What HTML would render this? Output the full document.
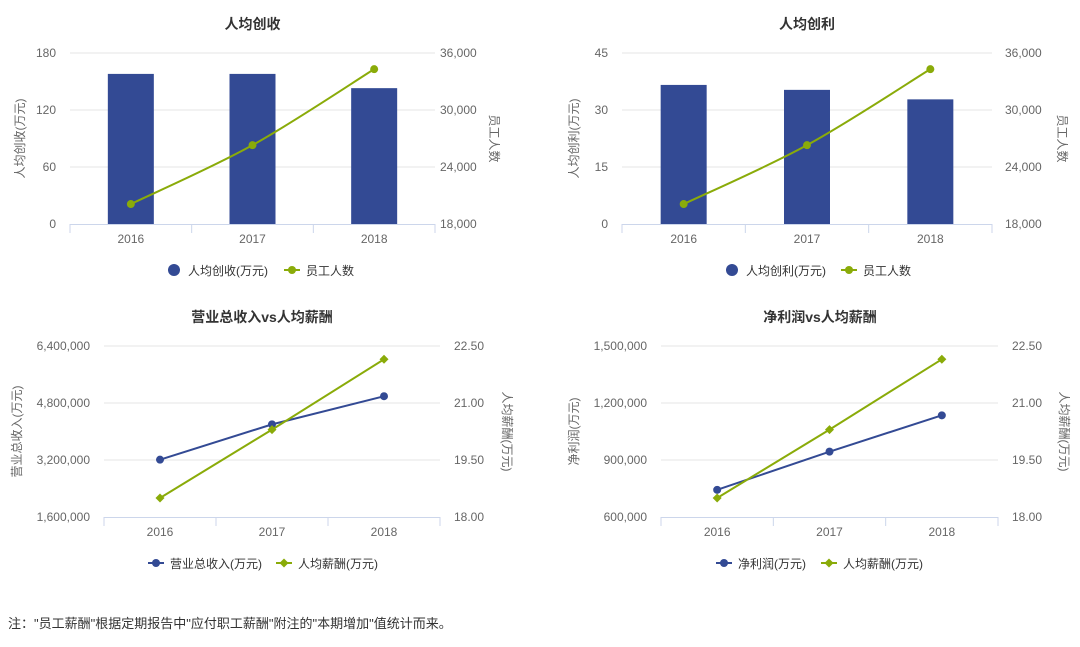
<!DOCTYPE html>
<html><head><meta charset="utf-8">
<style>
body{margin:0;background:#fff;width:1080px;height:647px;overflow:hidden;font-family:"Liberation Sans","Noto Sans CJK SC",sans-serif}
svg{position:absolute;left:0;top:0}
#note{position:absolute;left:8px;top:613px;font-size:13px;color:#333}
</style></head><body>
<svg id="chart" width="1080" height="647" xmlns="http://www.w3.org/2000/svg"></svg>
<div id="note">注："员工薪酬"根据定期报告中"应付职工薪酬"附注的"本期增加"值统计而来。</div>
<script>
const categories=["2016","2017","2018"];
const revPerCap=[158,158,143];
const profitPerCap=[36.6,35.3,32.8];
const employees=[20100,26300,34300];
const employees2=[20100,26300,34300];
const totalRevenue=[3210000,4200000,4990000];
const netProfit=[743000,944000,1135000];
const salary=[18.5,20.3,22.15];
const salary2=[18.5,20.3,22.15];
const ticks1L=[0,60,120,180], ticks1R=[18000,24000,30000,36000];
const ticks2L=[0,15,30,45];
const ticks3L=[1600000,3200000,4800000,6400000], ticksSal=[18,19.5,21,22.5];
const ticks4L=[600000,900000,1200000,1500000];

const NS="http://www.w3.org/2000/svg";
const svg=document.getElementById('chart');
const BLUE="#334a94", GREEN="#8aab09";
function el(tag,attrs,parent){const e=document.createElementNS(NS,tag);for(const k in attrs)e.setAttribute(k,attrs[k]);(parent||svg).appendChild(e);return e;}
function txt(s,attrs,parent){const e=el('text',attrs,parent);e.textContent=s;return e;}
function fmt(v,dec){return dec?v.toFixed(2):v.toLocaleString('en-US');}

function chart(o){
  const g=el('g',{});
  
  
  const {x0,x1,y0,y1}=o;
  const rOff=o.rOff||14;
  const t=txt(o.title,{x:o.tx||(x0+x1)/2,y:y1-24,'text-anchor':'middle','font-size':14,'font-weight':'bold',fill:'#333'},g);
  
  const yL=v=>y0-(v-o.lt[0])/(o.lt[o.lt.length-1]-o.lt[0])*(y0-y1);
  const yR=v=>y0-(v-o.rt[0])/(o.rt[o.rt.length-1]-o.rt[0])*(y0-y1);
  const bw=(x1-x0)/categories.length;
  const xC=i=>x0+bw*(i+0.5);
  o.lt.forEach((v,i)=>{
    if(i>0){const gl=el('line',{x1:x0,x2:x1,y1:yL(v),y2:yL(v),stroke:'#e6e6e6'},g);}
    const tl=txt(fmt(v,o.ldec),{x:x0-14,y:yL(v)+4,'text-anchor':'end','font-size':12,fill:'#666'},g);
    
  });
  o.rt.forEach(v=>{
    const tr=txt(fmt(v,o.rdec),{x:x1+rOff,y:yR(v)+4,'font-size':12,fill:'#666'},g);
    
  });
  el('line',{x1:x0,x2:x1,y1:y0+0.5,y2:y0+0.5,stroke:'#ccd6eb'},g);
  for(let i=0;i<=categories.length;i++)el('line',{x1:x0+bw*i,x2:x0+bw*i,y1:y0,y2:y0+9,stroke:'#ccd6eb'},g);
  categories.forEach((c,i)=>{const xl=txt(c,{x:xC(i),y:y0+19,'text-anchor':'middle','font-size':12,fill:'#666'},g);});
  const lt=txt(o.ltitle,{transform:`translate(${o.ltx},${(y0+y1)/2}) rotate(-90)`,'text-anchor':'middle','font-size':12,fill:'#666'},g);
  
  const rtt=txt(o.rtitle,{transform:`translate(${o.rtx},${(y0+y1)/2}) rotate(90)`,'text-anchor':'middle','font-size':12,fill:'#666'},g);
  
  if(o.bars){
    o.bars.forEach((v,i)=>{const b=el('rect',{x:xC(i)-23,y:yL(v),width:46,height:y0-yL(v),fill:BLUE},g);});
    const p=o.line.map((v,i)=>[xC(i),yR(v)]);
    let d=`M${p[0][0]},${p[0][1]}`;
    for(let i=0;i<p.length-1;i++){const a=p[Math.max(i-1,0)],b=p[i],c=p[i+1],e=p[Math.min(i+2,p.length-1)];
      d+=` C${b[0]+(c[0]-a[0])/6},${b[1]+(c[1]-a[1])/6} ${c[0]-(e[0]-b[0])/6},${c[1]-(e[1]-b[1])/6} ${c[0]},${c[1]}`;}
    const ln=el('path',{d,fill:'none',stroke:GREEN,'stroke-width':2},g);
    p.forEach(q=>{const m=el('circle',{cx:q[0],cy:q[1],r:4,fill:GREEN},g);});
  } else {
    const pb=o.lineL.map((v,i)=>[xC(i),yL(v)]);
    const l1=el('polyline',{points:pb.join(' '),fill:'none',stroke:BLUE,'stroke-width':2},g);
    pb.forEach(q=>{const m=el('circle',{cx:q[0],cy:q[1],r:4,fill:BLUE},g);});
    const pg=o.lineR.map((v,i)=>[xC(i),yR(v)]);
    const l2=el('polyline',{points:pg.join(' '),fill:'none',stroke:GREEN,'stroke-width':2},g);
    pg.forEach(q=>{const m=el('path',{d:`M${q[0]},${q[1]-4.5} L${q[0]+4.5},${q[1]} L${q[0]},${q[1]+4.5} L${q[0]-4.5},${q[1]} Z`,fill:GREEN},g);});
  }
  const L=o.legend, ly=L.y;
  const lg=el('g',{},g);
  const e1=el('g',{},lg);
  if(o.bars){el('circle',{cx:L.x+6,cy:ly,r:6,fill:BLUE},e1);}
  else{el('line',{x1:L.x-2,x2:L.x+14,y1:ly,y2:ly,stroke:BLUE,'stroke-width':2},e1);el('circle',{cx:L.x+6,cy:ly,r:4,fill:BLUE},e1);}
  txt(L.t1,{x:L.x+20,y:ly+5,'font-size':12,fill:'#333'},e1);
  const e2=el('g',{},lg);
  el('line',{x1:L.x2-2,x2:L.x2+14,y1:ly,y2:ly,stroke:GREEN,'stroke-width':2},e2);
  if(o.bars)el('circle',{cx:L.x2+6,cy:ly,r:4,fill:GREEN},e2);
  else el('path',{d:`M${L.x2+6},${ly-4.5} l4.5,4.5 l-4.5,4.5 l-4.5,-4.5 Z`,fill:GREEN},e2);
  txt(L.t2,{x:L.x2+20,y:ly+5,'font-size':12,fill:'#333'},e2);
}

chart({name:'revenue-per-capita-chart',title:'人均创收',x0:70,x1:435,rOff:5,y0:224,y1:53,lt:ticks1L,rt:ticks1R,ltitle:'人均创收(万元)',rtitle:'员工人数',ltx:24,rtx:490,bars:revPerCap,line:employees,
  legend:{y:270,x:168,t1:'人均创收(万元)',x2:286,t2:'员工人数'}});
chart({name:'profit-per-capita-chart',title:'人均创利',x0:622,x1:992,rOff:13,y0:224,y1:53,lt:ticks2L,rt:ticks1R,ltitle:'人均创利(万元)',rtitle:'员工人数',ltx:578,rtx:1058,bars:profitPerCap,line:employees2,
  legend:{y:270,x:726,t1:'人均创利(万元)',x2:843,t2:'员工人数'}});
chart({name:'total-revenue-vs-salary-chart',title:'营业总收入vs人均薪酬',tx:262,x0:104,x1:440,y0:517,y1:346,lt:ticks3L,rt:ticksSal,ldec:false,rdec:true,ltitle:'营业总收入(万元)',rtitle:'人均薪酬(万元)',ltx:21,rtx:503,lineL:totalRevenue,lineR:salary,
  legend:{y:563,x:150,t1:'营业总收入(万元)',x2:278,t2:'人均薪酬(万元)'}});
chart({name:'net-profit-vs-salary-chart',title:'净利润vs人均薪酬',tx:820,x0:661,x1:998,y0:517,y1:346,lt:ticks4L,rt:ticksSal,rdec:true,ltitle:'净利润(万元)',rtitle:'人均薪酬(万元)',ltx:578,rtx:1060,lineL:netProfit,lineR:salary2,
  legend:{y:563,x:718,t1:'净利润(万元)',x2:823,t2:'人均薪酬(万元)'}});
</script>
</body></html>
